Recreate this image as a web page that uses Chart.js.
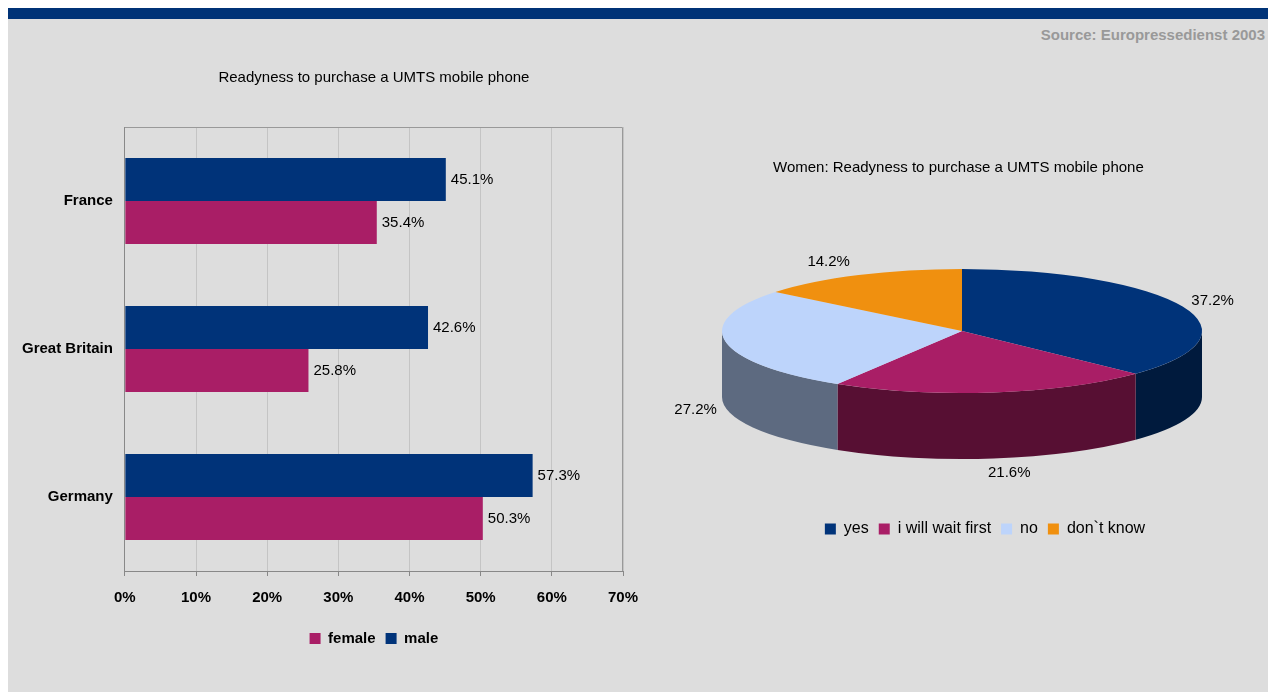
<!DOCTYPE html>
<html>
<head>
<meta charset="utf-8">
<script src="https://cdn.jsdelivr.net/npm/chart.js@4.4.1/dist/chart.umd.min.js"></script>
<style>
html, body { margin: 0; padding: 0; background: #fff; width: 1268px; height: 692px; overflow: hidden; }
#topbar { position: absolute; left: 8px; top: 8px; width: 1260px; height: 11px; background: #003377; }
#panel { position: absolute; left: 8px; top: 19px; width: 1260px; height: 673px; background: #dddddd; }
#source { position: absolute; right: 3px; top: 26px; font: bold 15px "Liberation Sans", Arial, sans-serif; color: #999; }
#barBox { position: absolute; left: 8px; top: 40px; width: 732px; height: 640px; }
#pieBox { position: absolute; left: 640px; top: 140px; width: 628px; height: 420px; }
</style>
</head>
<body>
<div id="topbar"></div>
<div id="panel"></div>
<div id="source">Source: Europressedienst 2003</div>
<div id="barBox"><canvas id="barChart"></canvas></div>
<div id="pieBox"><canvas id="pieChart"></canvas></div>
<script>
// data
const countries = ['France', 'Great Britain', 'Germany']
const maleValues = [45.1, 42.6, 57.3]
const femaleValues = [35.4, 25.8, 50.3]
const answers = ['yes', 'i will wait first', 'no', 'don`t know']
const womenValues = [37.2, 21.6, 27.2, 14.2]

const navy = '#003379'
const magenta = '#A91E66'

Chart.defaults.font.family = '"Liberation Sans", Arial, sans-serif'
Chart.defaults.color = '#000'

// value labels right of the bars
const barLabels = {
    id: 'barLabels',
    afterDatasetsDraw(chart) {
        const ctx = chart.ctx
        ctx.save()
        ctx.font = '15px "Liberation Sans", Arial, sans-serif'
        ctx.fillStyle = '#000'
        ctx.textBaseline = 'middle'
        chart.data.datasets.forEach((ds, i) => {
            chart.getDatasetMeta(i).data.forEach((bar, j) => {
                ctx.fillText(ds.data[j].toFixed(1) + '%', bar.x + 5, bar.y)
            })
        })
        ctx.restore()
    }
}

// top and right frame of the plot area
const plotFrame = {
    id: 'plotFrame',
    afterDraw(chart) {
        const {ctx, chartArea: a} = chart
        ctx.save()
        ctx.strokeStyle = '#999'
        ctx.lineWidth = 1
        ctx.beginPath()
        ctx.moveTo(a.left, a.top + 0.5)
        ctx.lineTo(a.right - 0.5, a.top + 0.5)
        ctx.lineTo(a.right - 0.5, a.bottom)
        ctx.stroke()
        ctx.restore()
    }
}

new Chart(document.getElementById('barChart'), {
    type: 'bar',
    data: {
        labels: countries,
        datasets: [
            { label: 'male', data: maleValues, backgroundColor: navy },
            { label: 'female', data: femaleValues, backgroundColor: magenta }
        ]
    },
    options: {
        indexAxis: 'y',
        responsive: true,
        maintainAspectRatio: false,
        animation: false,
        events: [],
        barPercentage: 1,
        categoryPercentage: 0.58,
        layout: { padding: { left: 2, right: 117, top: 0, bottom: 24 } },
        scales: {
            x: {
                min: 0,
                max: 70,
                ticks: {
                    stepSize: 10,
                    padding: 13,
                    font: { size: 15, weight: 'bold' },
                    color: '#000',
                    callback: v => v + '%'
                },
                grid: { color: '#c4c4c4', tickColor: '#888', tickLength: 5 },
                border: { color: '#888' },
                afterFit: scale => { scale.height += 1 }
            },
            y: {
                ticks: { padding: 12, font: { size: 15, weight: 'bold' }, color: '#000' },
                grid: { display: false, drawTicks: false },
                border: { color: '#888' }
            }
        },
        plugins: {
            title: {
                display: true,
                text: 'Readyness to purchase a UMTS mobile phone',
                fullSize: false,
                font: { size: 15, weight: 'normal' },
                color: '#000',
                padding: { top: 29, bottom: 40 }
            },
            legend: {
                position: 'bottom',
                fullSize: false,
                reverse: true,
                labels: { boxWidth: 11, boxHeight: 11, padding: 10, font: { size: 15, weight: 'bold' }, color: '#000' }
            },
            tooltip: { enabled: false }
        }
    },
    plugins: [barLabels, plotFrame]
})

// flattened pie with side walls
const sideColors = ['#001A3D', '#570F33', '#5D6A80', '#7A4808']
const pie3d = {
    id: 'pie3d',
    beforeDatasetsDraw(chart, args, opts) {
        const arcs = chart.getDatasetMeta(0).data
        const first = arcs[0]
        const r = first.outerRadius
        const {cx, cy, rx, ry, depth} = opts
        const ctx = chart.ctx
        arcs.forEach((arc, i) => {
            const s = Math.max(arc.startAngle, 0)
            const e = Math.min(arc.endAngle, Math.PI)
            if (e <= s) return
            ctx.beginPath()
            ctx.ellipse(cx, cy, rx, ry, 0, s, e)
            ctx.ellipse(cx, cy + depth, rx, ry, 0, e, s, true)
            ctx.closePath()
            ctx.fillStyle = sideColors[i]
            ctx.fill()
        })
        ctx.save()
        ctx.translate(cx, cy)
        ctx.scale(rx / r, ry / r)
        ctx.translate(-first.x, -first.y)
    },
    afterDatasetsDraw(chart, args, opts) {
        const ctx = chart.ctx
        ctx.restore()
        const {cx, cy, rx, ry, depth} = opts
        const values = chart.data.datasets[0].data
        ctx.save()
        ctx.font = '15px "Liberation Sans", Arial, sans-serif'
        ctx.fillStyle = '#000'
        ctx.textAlign = 'center'
        ctx.textBaseline = 'middle'
        chart.getDatasetMeta(0).data.forEach((arc, i) => {
            const m = (arc.startAngle + arc.endAngle) / 2
            const c = Math.cos(m), s = Math.sin(m)
            const x = cx + rx * c + 30 * Math.sign(c) * Math.min(1, Math.abs(c) * 4)
            const y = cy + (ry + 15) * s + (s > 0 ? depth : 0)
            ctx.fillText(values[i].toFixed(1) + '%', x, y)
        })
        ctx.restore()
    }
}

new Chart(document.getElementById('pieChart'), {
    type: 'pie',
    data: {
        labels: answers,
        datasets: [{
            data: womenValues,
            backgroundColor: [navy, magenta, '#BDD4FB', '#F0900F'],
            borderWidth: 0,
            clip: false
        }]
    },
    options: {
        responsive: true,
        maintainAspectRatio: false,
        animation: false,
        events: [],
        layout: { padding: { left: 133, right: 71, top: 0, bottom: 13 } },
        plugins: {
            title: {
                display: true,
                text: 'Women: Readyness to purchase a UMTS mobile phone',
                align: 'start',
                font: { size: 15, weight: 'normal' },
                color: '#000',
                padding: { top: 19, bottom: 10 }
            },
            legend: {
                position: 'bottom',
                labels: { boxWidth: 11, boxHeight: 11, padding: 10, font: { size: 16 }, color: '#000' }
            },
            tooltip: { enabled: false },
            pie3d: { cx: 322, cy: 191, rx: 240, ry: 62, depth: 66 }
        }
    },
    plugins: [pie3d]
})
</script>
</body>
</html>
